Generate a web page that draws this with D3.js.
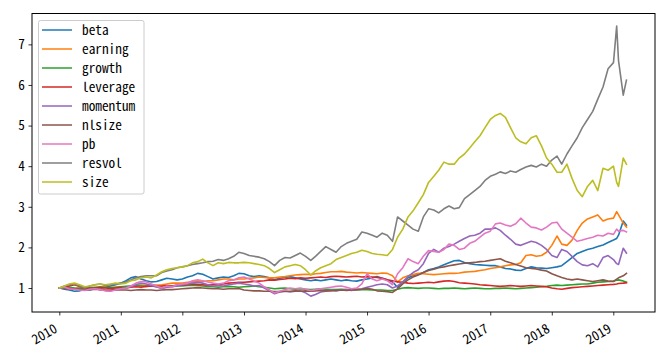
<!DOCTYPE html>
<html><head><meta charset="utf-8">
<script src="https://cdn.jsdelivr.net/npm/d3@7"></script>
<style>
body{margin:0;background:#fff;}
text{font-family:"Noto Sans Mono CJK SC","Noto Sans CJK SC","DejaVu Sans Mono",monospace;}
</style></head>
<body><svg id="chart" width="672" height="356"></svg>
<script>
// monthly dates Jan 2010 .. Dec 2018, then a few 2019 dates
const monthlyDates = d3.timeMonth.range(new Date(2010,0,1), new Date(2019,0,1));
const extraDates = ["2019-01-02","2019-01-21","2019-02-01","2019-03-01","2019-03-20"];
const seriesNames = ["beta","earning","growth","leverage","momentum","nlsize","pb","resvol","size"];
const colors = ["#1f77b4","#ff7f0e","#2ca02c","#d62728","#9467bd","#8c564b","#e377c2","#7f7f7f","#bcbd22"];
const yTicks = [1,2,3,4,5,6,7];
const xTickYears = [2010,2011,2012,2013,2014,2015,2016,2017,2018,2019];

const beta = [1.0,0.97,0.95,0.92,0.93,0.96,0.95,0.98,1.0,1.02,1.05,1.08,
 1.12,1.18,1.25,1.28,1.22,1.18,1.15,1.16,1.2,1.24,1.22,1.2,
 1.22,1.27,1.3,1.36,1.34,1.28,1.22,1.25,1.27,1.26,1.3,1.36,
 1.35,1.3,1.28,1.3,1.28,1.25,1.2,1.24,1.26,1.28,1.25,1.22,
 1.2,1.18,1.2,1.18,1.2,1.22,1.2,1.18,1.2,1.18,1.17,1.2,
 1.22,1.25,1.28,1.24,1.2,1.15,1.02,1.15,1.25,1.3,1.34,1.38,
 1.45,1.48,1.52,1.57,1.62,1.67,1.68,1.63,1.6,1.58,1.57,1.56,
 1.55,1.55,1.52,1.48,1.47,1.44,1.43,1.48,1.52,1.5,1.49,1.48,
 1.5,1.52,1.55,1.65,1.75,1.85,1.9,1.95,1.98,2.02,2.06,2.12,
 2.18,2.22,2.3,2.65,2.55];
const earning = [1.0,1.0,0.98,0.99,1.0,0.97,0.98,1.0,1.01,1.02,1.0,1.02,
 1.03,1.02,1.05,1.06,1.07,1.06,1.08,1.07,1.08,1.1,1.12,1.12,
 1.12,1.14,1.15,1.17,1.16,1.18,1.18,1.2,1.22,1.22,1.2,1.22,
 1.22,1.24,1.25,1.27,1.26,1.25,1.25,1.27,1.28,1.3,1.32,1.33,
 1.34,1.33,1.35,1.36,1.38,1.4,1.4,1.41,1.39,1.38,1.37,1.38,
 1.37,1.36,1.35,1.37,1.36,1.3,1.15,1.25,1.3,1.33,1.36,1.35,
 1.34,1.33,1.34,1.35,1.36,1.36,1.37,1.39,1.4,1.41,1.43,1.45,
 1.48,1.5,1.52,1.55,1.57,1.58,1.62,1.8,1.82,1.78,1.8,1.88,
 2.05,2.28,2.08,2.05,2.18,2.42,2.6,2.7,2.75,2.8,2.65,2.7,
 2.72,2.88,2.8,2.6,2.5];
const growth = [1.0,1.01,1.02,1.0,0.99,1.0,1.01,1.02,1.03,1.02,1.01,1.02,
 1.03,1.04,1.05,1.06,1.05,1.04,1.05,1.03,1.02,1.03,1.04,1.05,
 1.05,1.06,1.07,1.06,1.05,1.04,1.03,1.02,1.03,1.04,1.03,1.02,
 1.03,1.04,1.05,1.03,1.02,1.0,0.98,0.99,1.0,0.98,0.97,0.98,
 0.97,0.96,0.97,0.98,0.97,0.96,0.96,0.97,0.96,0.95,0.95,0.96,
 0.96,0.95,0.95,0.95,0.94,0.94,0.97,1.0,1.01,1.0,0.99,1.0,
 1.0,0.99,0.98,0.99,0.99,1.0,0.99,0.98,0.99,1.0,0.99,0.98,
 0.98,0.99,0.99,1.0,0.99,0.98,0.99,1.0,1.01,1.02,1.03,1.04,
 1.06,1.07,1.06,1.07,1.08,1.09,1.1,1.1,1.12,1.14,1.15,1.16,
 1.17,1.19,1.2,1.17,1.14];
const leverage = [1.0,1.02,1.05,1.08,1.04,1.0,0.99,1.0,1.01,1.0,0.99,1.0,
 1.01,1.0,1.02,1.03,1.02,1.04,1.05,1.04,1.05,1.06,1.05,1.07,
 1.07,1.08,1.1,1.09,1.08,1.07,1.08,1.09,1.1,1.12,1.13,1.14,
 1.14,1.15,1.16,1.17,1.18,1.2,1.19,1.21,1.22,1.24,1.23,1.25,
 1.24,1.25,1.26,1.27,1.26,1.28,1.29,1.28,1.27,1.28,1.29,1.27,
 1.28,1.27,1.26,1.24,1.2,1.18,1.15,1.14,1.12,1.11,1.12,1.13,
 1.14,1.13,1.15,1.17,1.18,1.16,1.13,1.12,1.11,1.1,1.08,1.07,
 1.06,1.05,1.04,1.05,1.06,1.05,1.04,1.05,1.06,1.05,1.04,1.03,
 1.0,0.98,0.97,0.99,1.01,1.02,1.03,1.04,1.05,1.06,1.07,1.08,
 1.09,1.1,1.11,1.12,1.13];
const momentum = [1.0,1.02,0.99,0.97,0.96,0.95,0.97,0.98,0.96,0.94,0.93,0.96,
 0.98,1.0,1.03,1.08,1.12,1.1,1.06,1.03,0.98,1.02,1.03,1.05,
 1.08,1.1,1.12,1.14,1.12,1.08,1.05,1.06,1.05,1.08,1.1,1.12,
 1.1,1.08,1.05,1.06,1.0,0.93,0.86,0.9,0.92,0.9,0.92,0.93,
 0.88,0.8,0.84,0.9,0.92,0.95,0.93,0.95,0.96,0.94,0.97,0.98,
 1.02,1.05,1.08,1.1,1.08,1.0,1.05,1.15,1.28,1.38,1.45,1.6,
 1.85,1.95,1.88,1.98,2.02,2.08,2.15,2.22,2.28,2.3,2.35,2.45,
 2.45,2.48,2.42,2.3,2.2,2.08,2.05,2.1,2.15,2.12,2.05,1.95,
 1.8,1.75,1.95,1.9,1.78,1.65,1.57,1.55,1.6,1.52,1.75,1.8,
 1.7,1.6,1.58,1.98,1.86];
const nlsize = [1.0,0.99,0.98,0.98,0.97,0.97,0.96,0.97,0.96,0.95,0.95,0.96,
 0.95,0.95,0.94,0.95,0.96,0.95,0.95,0.94,0.95,0.96,0.96,0.97,
 0.98,0.99,1.0,1.01,1.0,0.99,0.98,0.98,0.97,0.98,0.98,0.99,
 0.95,0.94,0.93,0.93,0.92,0.92,0.91,0.91,0.92,0.92,0.93,0.92,
 0.93,0.92,0.93,0.94,0.93,0.93,0.94,0.95,0.94,0.95,0.96,0.97,
 0.99,0.97,0.93,0.92,0.91,0.89,0.98,1.1,1.2,1.27,1.32,1.38,
 1.43,1.46,1.5,1.52,1.55,1.57,1.59,1.61,1.62,1.63,1.65,1.66,
 1.68,1.7,1.72,1.66,1.62,1.58,1.54,1.5,1.48,1.47,1.44,1.42,
 1.35,1.3,1.26,1.22,1.2,1.22,1.2,1.18,1.16,1.18,1.2,1.17,
 1.16,1.22,1.25,1.3,1.36];
const pb = [1.0,1.02,0.98,0.97,0.95,0.94,0.97,0.98,0.96,0.93,0.92,0.95,
 0.98,1.0,1.05,1.12,1.16,1.15,1.1,1.05,1.0,1.05,1.03,1.08,
 1.1,1.12,1.18,1.2,1.18,1.15,1.12,1.1,1.12,1.18,1.2,1.25,
 1.27,1.22,1.17,1.12,1.03,0.95,0.88,0.92,0.96,1.0,0.98,1.0,
 0.97,0.94,0.96,0.98,1.0,1.02,1.04,1.05,1.02,0.98,1.0,1.1,
 1.35,1.22,1.18,1.22,1.18,1.08,1.35,1.5,1.72,1.65,1.6,1.78,
 1.92,1.9,1.88,1.95,2.08,2.05,1.95,1.98,2.1,2.15,2.25,2.35,
 2.4,2.58,2.6,2.55,2.52,2.58,2.72,2.6,2.5,2.48,2.43,2.5,
 2.6,2.62,2.45,2.35,2.25,2.15,2.18,2.22,2.25,2.3,2.28,2.35,
 2.32,2.45,2.4,2.42,2.38];
const resvol = [1.0,1.05,1.08,1.1,1.05,1.0,1.05,1.08,1.1,1.06,1.08,1.1,
 1.12,1.15,1.2,1.25,1.28,1.3,1.3,1.3,1.38,1.42,1.45,1.5,
 1.52,1.55,1.58,1.6,1.62,1.65,1.66,1.7,1.68,1.72,1.78,1.88,
 1.85,1.8,1.78,1.76,1.72,1.65,1.55,1.68,1.75,1.74,1.8,1.86,
 1.78,1.68,1.78,1.9,2.02,1.95,1.88,2.02,2.1,2.15,2.2,2.38,
 2.35,2.3,2.25,2.35,2.3,2.15,2.75,2.65,2.55,2.45,2.4,2.75,
 2.95,2.92,2.85,2.95,3.02,2.95,2.98,3.2,3.3,3.4,3.5,3.65,
 3.75,3.8,3.86,3.82,3.88,3.85,3.92,3.98,4.02,3.98,4.05,4.0,
 4.15,4.25,4.05,4.3,4.5,4.7,4.95,5.15,5.35,5.65,5.95,6.4,
 6.55,7.45,6.6,5.75,6.12];
const size = [1.0,1.05,1.1,1.12,1.08,1.03,1.05,1.08,1.1,1.08,1.1,1.12,
 1.1,1.12,1.18,1.2,1.25,1.27,1.25,1.32,1.4,1.45,1.48,1.5,
 1.52,1.55,1.62,1.65,1.71,1.62,1.55,1.62,1.6,1.63,1.62,1.62,
 1.63,1.62,1.6,1.58,1.55,1.48,1.38,1.45,1.52,1.55,1.58,1.55,
 1.45,1.32,1.42,1.5,1.55,1.6,1.7,1.75,1.8,1.85,1.88,1.93,
 1.9,1.85,1.83,1.82,1.8,1.95,2.25,2.45,2.75,2.9,3.1,3.3,
 3.6,3.75,3.9,4.1,4.05,4.05,4.2,4.3,4.45,4.6,4.75,4.95,
 5.15,5.25,5.3,5.2,4.95,4.7,4.6,4.55,4.7,4.75,4.5,4.2,
 4.05,3.85,3.85,4.05,3.7,3.4,3.25,3.5,3.65,3.4,3.95,3.9,
 4.0,3.6,3.5,4.2,4.05];

const seriesValues = [beta,earning,growth,leverage,momentum,nlsize,pb,resvol,size];
const parseDay = d3.timeParse("%Y-%m-%d");
const dates = monthlyDates.concat(extraDates.map(parseDay));

const W = 672, H = 356;
const L = 32, R = 655, T = 13.5, B = 312;
const svg = d3.select("#chart");

const x0 = d3.scaleTime().domain([new Date(2010,0,1), new Date(2019,0,1)]).range([59.3, 613.3]);
const x = d3.scaleTime().domain([x0.invert(L), x0.invert(R)]).range([L, R]);
const y = d3.scaleLinear().domain([0.409, 7.76]).range([B, T]);

svg.append("defs").append("clipPath").attr("id","clip")
  .append("rect").attr("x",L).attr("y",T).attr("width",R-L).attr("height",B-T);

const line = d3.line().x((d,i)=>x(dates[i])).y(d=>y(d));
const g = svg.append("g").attr("clip-path","url(#clip)");
seriesValues.forEach((vals,k)=>{
  g.append("path").datum(vals).attr("d",line)
   .attr("fill","none").attr("stroke",colors[k]).attr("stroke-width",1.6)
   .attr("stroke-linejoin","round").attr("stroke-linecap","square");
});

// axes
const xAxis = d3.axisBottom(x).tickValues(xTickYears.map(yr=>new Date(yr,0,1)))
  .tickFormat(d3.timeFormat("%Y")).tickSize(3.5).tickPadding(3);
const gx = svg.append("g").attr("transform",`translate(0,${B})`).call(xAxis);
gx.select(".domain").remove();
gx.selectAll(".tick line").attr("stroke","#000").attr("stroke-width",0.8);
gx.selectAll(".tick text").attr("font-size","13.3px").attr("fill","#000")
  .attr("text-anchor","end").attr("dy",null).attr("y",0)
  .attr("transform","translate(-1.5,19.5) rotate(-30)");

const yAxis = d3.axisLeft(y).tickValues(yTicks).tickFormat(d3.format("d")).tickSize(3.5).tickPadding(3.5);
const gy = svg.append("g").attr("transform",`translate(${L},0)`).call(yAxis);
gy.select(".domain").remove();
gy.selectAll(".tick line").attr("stroke","#000").attr("stroke-width",0.8);
gy.selectAll(".tick text").attr("font-size","13.3px").attr("fill","#000");

// spines
svg.append("rect").attr("x",L).attr("y",T).attr("width",R-L).attr("height",B-T)
  .attr("fill","none").attr("stroke","#000").attr("stroke-width",1);

// legend
const lg = svg.append("g");
lg.append("rect").attr("x",38.5).attr("y",20.5).attr("width",105.5).attr("height",173.5)
  .attr("rx",2).attr("fill","#fff").attr("fill-opacity",0.8).attr("stroke","#cccccc").attr("stroke-width",1);
seriesNames.forEach((nm,k)=>{
  const yy = 30 + k*19;
  lg.append("line").attr("x1",42).attr("x2",72).attr("y1",yy).attr("y2",yy)
    .attr("stroke",colors[k]).attr("stroke-width",1.5);
  lg.append("text").attr("x",82).attr("y",yy).attr("dy","0.35em")
    .attr("font-size","13.3px").attr("fill","#000").text(nm);
});
</script></body></html>
